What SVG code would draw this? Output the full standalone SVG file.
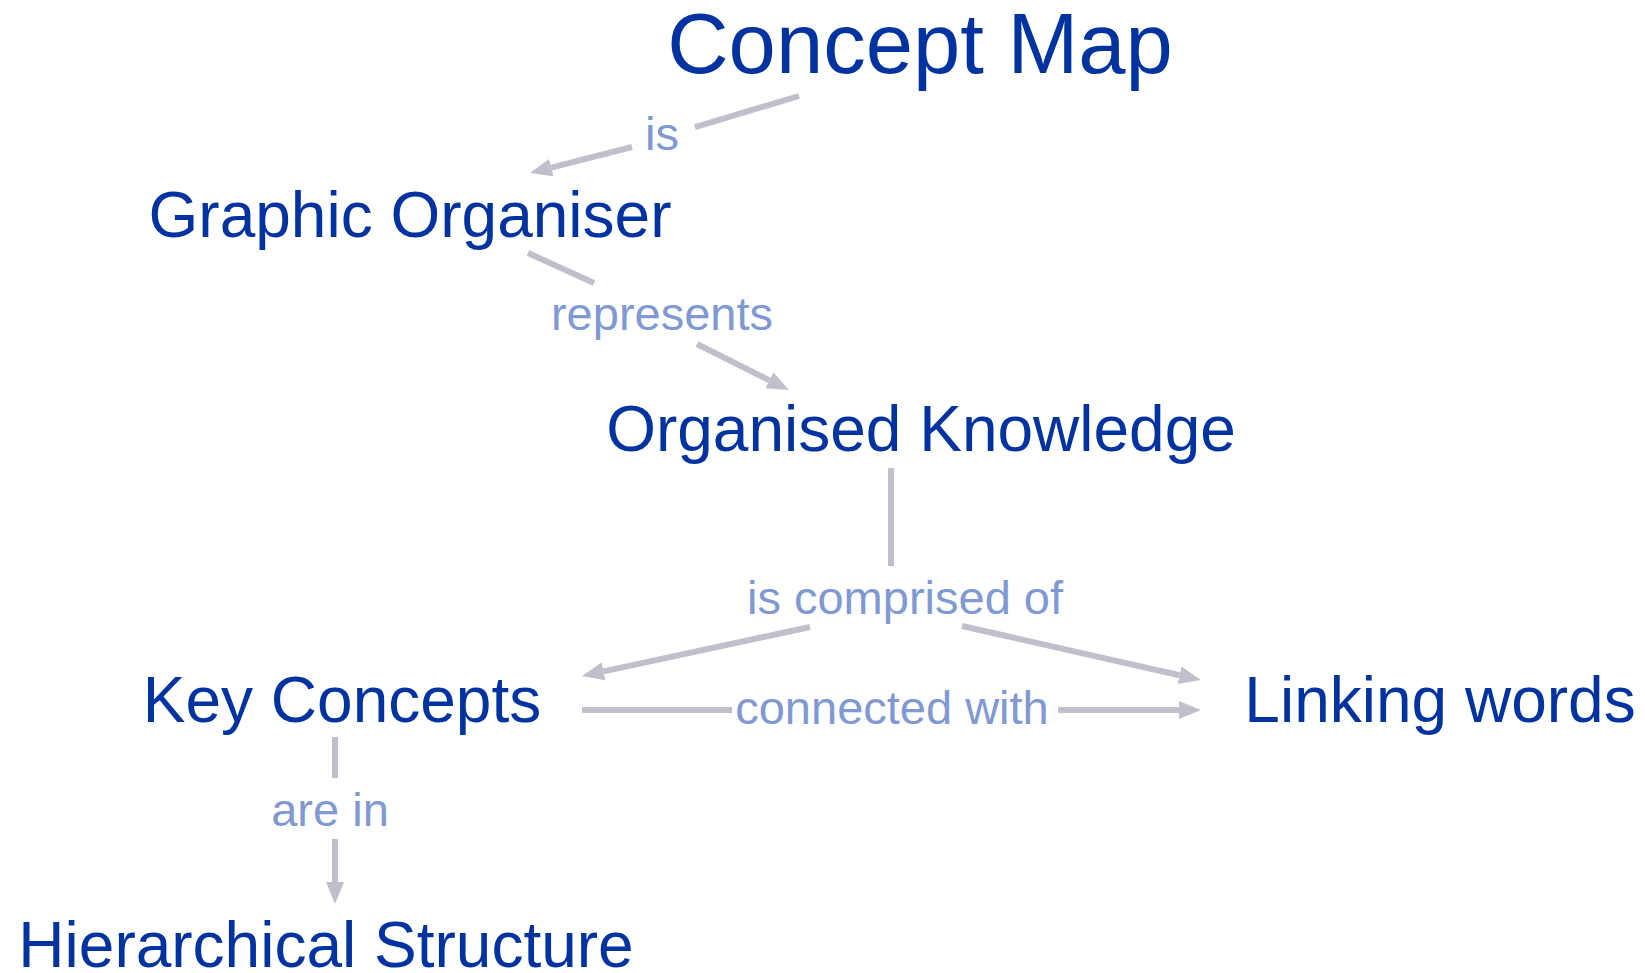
<svg xmlns="http://www.w3.org/2000/svg" width="1645" height="973" viewBox="0 0 1645 973">
<style>
.node{font-family:"Liberation Sans",Arial,sans-serif;fill:#0033a0;text-anchor:middle}
.lbl{font-family:"Liberation Sans",Arial,sans-serif;fill:#8099d2;font-size:47px;text-anchor:middle}
.ln{stroke:#c0c0cc;stroke-width:6;fill:none}
</style>
<defs>
<marker id="ah" markerUnits="userSpaceOnUse" markerWidth="24" markerHeight="20" refX="0" refY="9" orient="auto">
<path d="M0,0 L22,9 L0,18 z" fill="#c0c0cc"/>
</marker>
</defs>
<rect width="1645" height="973" fill="#ffffff"/>
<g id="connectors">
<line class="ln" x1="799" y1="96" x2="695" y2="127"/>
<line class="ln" x1="632" y1="147" x2="551.3" y2="167.6" marker-end="url(#ah)"/>
<line class="ln" x1="528" y1="253" x2="594" y2="283"/>
<line class="ln" x1="697" y1="344" x2="769.3" y2="380.2" marker-end="url(#ah)"/>
<line class="ln" x1="891" y1="468" x2="891" y2="566"/>
<line class="ln" x1="810" y1="627" x2="603.5" y2="671.4" marker-end="url(#ah)"/>
<line class="ln" x1="962" y1="626" x2="1179.5" y2="675.2" marker-end="url(#ah)"/>
<line class="ln" x1="582" y1="710" x2="732" y2="710"/>
<line class="ln" x1="1058" y1="710" x2="1179" y2="710" marker-end="url(#ah)"/>
<line class="ln" x1="335" y1="737" x2="335" y2="778"/>
<line class="ln" x1="335" y1="839" x2="335" y2="882" marker-end="url(#ah)"/>
<text class="lbl" x="662" y="150">is</text>
<text class="lbl" x="662" y="330">represents</text>
<text class="lbl" x="905" y="614">is comprised of</text>
<text class="lbl" x="892" y="724">connected with</text>
<text class="lbl" x="330" y="826">are in</text>
</g>
<g id="concept-map"><text class="node" x="920" y="73" font-size="85">Concept Map</text></g>
<g id="graphic-organiser"><text class="node" x="410" y="237" font-size="64">Graphic Organiser</text></g>
<g id="organised-knowledge"><text class="node" x="921" y="451" font-size="64">Organised Knowledge</text></g>
<g id="key-concepts"><text class="node" x="342" y="722" font-size="64">Key Concepts</text></g>
<g id="linking-words"><text class="node" x="1440" y="722" font-size="64">Linking words</text></g>
<g id="hierarchical-structure"><text class="node" x="326" y="967" font-size="64">Hierarchical Structure</text></g>
</svg>
